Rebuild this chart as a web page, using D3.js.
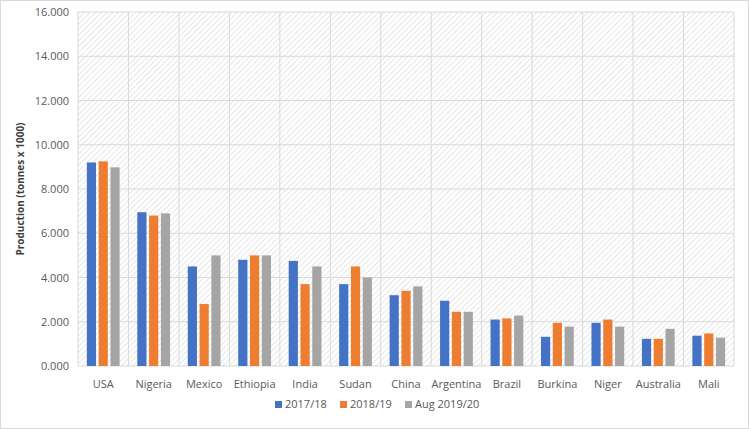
<!DOCTYPE html>
<html>
<head>
<style>
body { margin: 0; background: #fff; }
text { font-family: "Open Sans", "Liberation Sans", sans-serif; fill: #595959; }
</style>
</head>
<body>
<svg id="chart" width="749" height="429"></svg>
<script src="https://cdnjs.cloudflare.com/ajax/libs/d3/7.8.5/d3.min.js"></script>
<script>
var categories = ["USA", "Nigeria", "Mexico", "Ethiopia", "India", "Sudan", "China", "Argentina", "Brazil", "Burkina", "Niger", "Australia", "Mali"];
var seriesNames = ["2017/18", "2018/19", "Aug 2019/20"];
var s2017 = [9200, 6950, 4500, 4800, 4750, 3700, 3200, 2950, 2100, 1320, 1950, 1230, 1370];
var s2018 = [9250, 6800, 2800, 5000, 3700, 4500, 3400, 2450, 2150, 1950, 2100, 1230, 1470];
var s2019 = [8980, 6900, 5000, 5000, 4500, 4000, 3600, 2450, 2280, 1780, 1780, 1680, 1280];
var yTicks = [0, 2000, 4000, 6000, 8000, 10000, 12000, 14000, 16000];
var colors = ["#4472c4", "#ed7d31", "#a5a5a5"];

var series = [s2017, s2018, s2019];
var svg = d3.select("#chart");
var m = { left: 78, right: 15, top: 12, bottom: 63 };
var W = 749, H = 429;

svg.append("rect").attr("x", 0.5).attr("y", 0.5).attr("width", W - 1).attr("height", H - 1)
    .attr("fill", "#fff").attr("stroke", "#d9d9d9");

var defs = svg.append("defs");
var pat = defs.append("pattern").attr("id", "hatch").attr("patternUnits", "userSpaceOnUse")
    .attr("width", 4).attr("height", 4).attr("patternTransform", "rotate(45)");
pat.append("rect").attr("width", 4).attr("height", 4).attr("fill", "#fff");
pat.append("line").attr("x1", 0).attr("y1", 0).attr("x2", 0).attr("y2", 4)
    .attr("stroke", "#d6d6d6").attr("stroke-width", 1.2);

var x = d3.scaleBand().domain(categories).range([m.left, W - m.right]);
var y = d3.scaleLinear().domain([0, 16000]).range([H - m.bottom, m.top]);
var xs = d3.scaleBand().domain(d3.range(3)).range([0, x.bandwidth()]).paddingInner(0.22).paddingOuter(0.75);

svg.append("rect").attr("x", m.left).attr("y", m.top)
    .attr("width", W - m.right - m.left).attr("height", H - m.bottom - m.top)
    .attr("fill", "url(#hatch)");

svg.append("g").selectAll("line").data(yTicks).enter().append("line")
    .attr("x1", m.left).attr("x2", W - m.right)
    .attr("y1", function(d) { return y(d); }).attr("y2", function(d) { return y(d); })
    .attr("stroke", "#d9d9d9");
svg.append("g").selectAll("line").data(categories.concat(["end"])).enter().append("line")
    .attr("x1", function(d, i) { return m.left + i * x.bandwidth(); })
    .attr("x2", function(d, i) { return m.left + i * x.bandwidth(); })
    .attr("y1", m.top).attr("y2", H - m.bottom)
    .attr("stroke", "#d9d9d9");

series.forEach(function(s, si) {
    svg.append("g").selectAll("rect").data(s).enter().append("rect")
        .attr("x", function(d, i) { return x(categories[i]) + xs(si); })
        .attr("width", xs.bandwidth())
        .attr("y", function(d) { return y(d); })
        .attr("height", function(d) { return y(0) - y(d); })
        .attr("fill", colors[si]);
});

svg.append("g").selectAll("text").data(yTicks).enter().append("text")
    .attr("x", m.left - 9).attr("y", function(d) { return y(d) + 4; })
    .attr("text-anchor", "end").attr("font-size", 11)
    .text(function(d) { return (d / 1000).toFixed(3); });

svg.append("g").selectAll("text").data(categories).enter().append("text")
    .attr("x", function(d) { return x(d) + x.bandwidth() / 2; })
    .attr("y", H - m.bottom + 22).attr("text-anchor", "middle").attr("font-size", 11)
    .text(function(d) { return d; });

svg.append("text").attr("transform", "translate(24," + ((m.top + H - m.bottom) / 2) + ") rotate(-90)")
    .attr("text-anchor", "middle").attr("font-size", 10).attr("font-weight", "bold")
    .style("fill", "#404040")
    .text("Production  (tonnes x 1000)");

var legX = [275, 340, 405];
var leg = svg.append("g").selectAll("g").data(seriesNames).enter().append("g")
    .attr("transform", function(d, i) { return "translate(" + legX[i] + ",408)"; });
leg.append("rect").attr("x", 0).attr("y", -7).attr("width", 7).attr("height", 7)
    .attr("fill", function(d, i) { return colors[i]; });
leg.append("text").attr("x", 10).attr("y", 0).attr("font-size", 11).text(function(d) { return d; });
</script>
</body>
</html>
